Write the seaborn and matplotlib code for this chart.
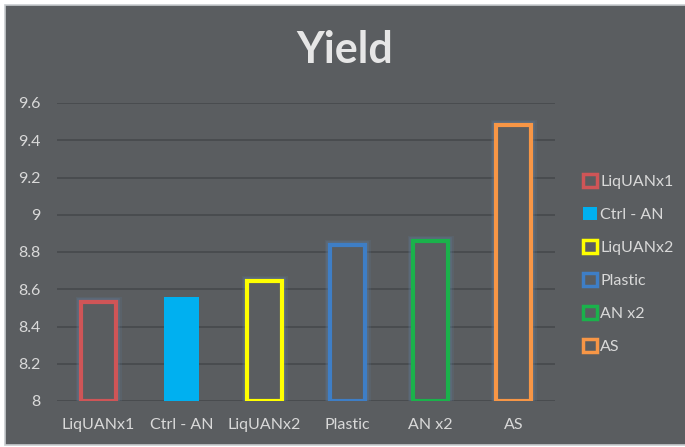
import matplotlib
matplotlib.use("Agg")
import matplotlib.pyplot as plt
from matplotlib.patches import Patch, Rectangle
import matplotlib.patheffects as pe
import seaborn as sns
import pandas as pd

# Yield by treatment
treatments = ["LiqUANx1", "Ctrl - AN", "LiqUANx2", "Plastic", "AN x2", "AS"]
yields = [8.53, 8.56, 8.645, 8.84, 8.86, 9.48]
colors = ["#CF5557", "#00B0F0", "#FFFF00", "#3E7EC6", "#1AB24B", "#F79646"]
filled = [False, True, False, False, False, False]
y_ticks = [8, 8.2, 8.4, 8.6, 8.8, 9, 9.2, 9.4, 9.6]
y_tick_labels = ["8", "8.2", "8.4", "8.6", "8.8", "9", "9.2", "9.4", "9.6"]

BG = "#5A5D60"
TXT = "#D9D9D9"
GRID = "#45484B"
GLOW = "#5E7A98"

sns.set_theme(style="white")
plt.rcParams["font.family"] = ["Lato", "DejaVu Sans"]

fig = plt.figure(figsize=(6.85, 4.47), dpi=100, facecolor="white")
fig.patches.append(Rectangle((5 / 685, 2 / 447), 1, 440 / 447, transform=fig.transFigure,
                             facecolor=BG, edgecolor="#C8CCCF", linewidth=1.2, zorder=-10))
ax = fig.add_axes([57 / 685, 46 / 447, 498 / 685, 298 / 447])
ax.set_facecolor(BG)

df = pd.DataFrame({"treatment": treatments, "yield": yields})
sns.barplot(data=df, x="treatment", y="yield", hue="treatment", palette=colors,
            order=treatments, hue_order=treatments, width=0.43, legend=False,
            ax=ax, zorder=3)

# soft glow around the outlined bars
glow = [pe.Stroke(linewidth=8, foreground=GLOW, alpha=0.18),
        pe.Stroke(linewidth=5.5, foreground=GLOW, alpha=0.35),
        pe.Normal()]
for patch, val, col, fl in zip(ax.patches, yields, colors, filled):
    patch.set_y(8)
    patch.set_height(val - 8)
    if fl:
        patch.set_facecolor(col)
        patch.set_edgecolor(col)
        patch.set_linewidth(0)
    else:
        patch.set_facecolor(BG)
        patch.set_edgecolor(col)
        patch.set_linewidth(3)
        patch.set_path_effects(glow)

ax.set_ylim(8, 9.6)
ax.set_yticks(y_ticks)
ax.set_yticklabels(y_tick_labels)
ax.yaxis.grid(True, color=GRID, linewidth=1.1)
ax.set_axisbelow(True)
for s in ax.spines.values():
    s.set_visible(False)
ax.tick_params(axis="both", length=0, colors=TXT, labelsize=11.5)
ax.tick_params(axis="y", pad=12)
ax.tick_params(axis="x", pad=12)
for lab in ax.get_yticklabels():
    lab.set_horizontalalignment("right")
ax.set_xlabel("")
ax.set_ylabel("")

fig.text(0.503, 0.888, "Yield", ha="center", va="center", fontsize=31,
         fontweight="bold", color="#E6E6E6")

handles = []
for col, fl in zip(colors, filled):
    handles.append(Patch(facecolor=col if fl else BG, edgecolor=col,
                         linewidth=0 if fl else 2.5))
leg = fig.legend(handles, treatments, loc="upper left",
                 bbox_to_anchor=(569 / 685, 1 - 160 / 447), frameon=False,
                 fontsize=11.5, labelcolor=TXT, handlelength=0.85, handleheight=0.85,
                 handletextpad=0.2, labelspacing=1.13)

fig.savefig("out.png", dpi=100, facecolor="white")
